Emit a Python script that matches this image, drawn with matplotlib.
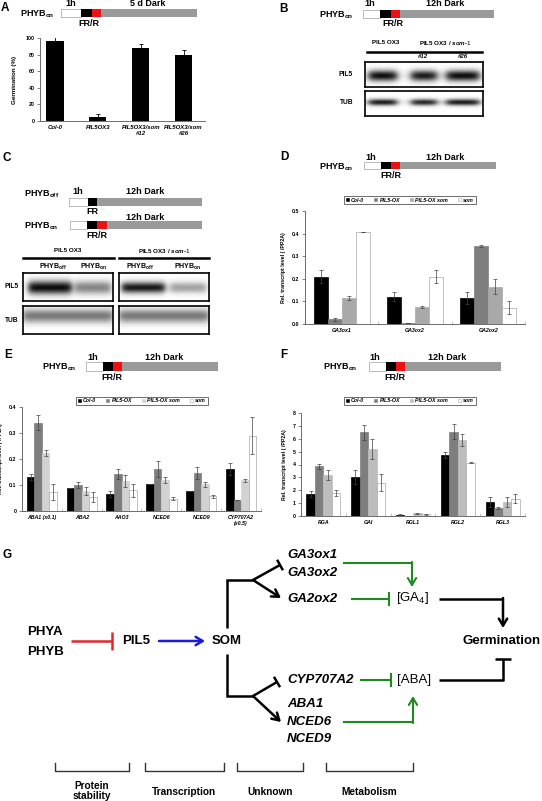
import numpy as np
import matplotlib
matplotlib.use('Agg')
import matplotlib.pyplot as plt
from matplotlib.patches import Rectangle, Patch
from matplotlib.ticker import FormatStrFormatter

plt.rcParams['font.family'] = 'Liberation Sans'
plt.rcParams['mathtext.fontset'] = 'custom'
plt.rcParams['mathtext.rm'] = 'Liberation Sans'
plt.rcParams['mathtext.bf'] = 'Liberation Sans:bold'
plt.rcParams['mathtext.it'] = 'Liberation Sans:italic:bold'

W, H = 542, 801

# ---- data ----
a_labels = ['Col-0', 'PIL5OX3', 'PIL5OX3/som\n#12', 'PIL5OX3/som\n#26']
a_germ = [96, 5, 88, 80]
a_err = [5, 4, 5, 6]

series = ['Col-0', 'PIL5-OX', 'PIL5-OX som', 'som']

d_genes = ['GA3ox1', 'GA3ox2', 'GA2ox2']
d_col0 = [0.21, 0.12, 0.115]
d_pil5ox = [0.02, 0.003, 0.345]
d_pil5som = [0.115, 0.077, 0.165]
d_som = [0.405, 0.21, 0.073]
d_col0_err = [0.03, 0.02, 0.025]
d_pil5ox_err = [0.008, 0.0, 0.005]
d_pil5som_err = [0.01, 0.004, 0.033]
d_som_err = [0.0, 0.03, 0.028]

e_genes = ['ABA1 (x0.1)', 'ABA2', 'AAO3', 'NCED6', 'NCED9', 'CYP707A2\n(x0.5)']
e_col0 = [0.132, 0.088, 0.065, 0.103, 0.077, 0.16]
e_pil5ox = [0.34, 0.10, 0.142, 0.162, 0.147, 0.043]
e_pil5som = [0.222, 0.077, 0.115, 0.118, 0.103, 0.119]
e_som = [0.073, 0.053, 0.08, 0.048, 0.057, 0.29]
e_col0_err = [0.012, 0.0, 0.012, 0.0, 0.0, 0.023]
e_pil5ox_err = [0.03, 0.012, 0.018, 0.03, 0.023, 0.001]
e_pil5som_err = [0.012, 0.017, 0.023, 0.012, 0.009, 0.006]
e_som_err = [0.03, 0.02, 0.025, 0.004, 0.006, 0.07]

f_genes = ['RGA', 'GAI', 'RGL1', 'RGL2', 'RGL3']
f_col0 = [1.7, 3.05, 0.1, 4.75, 1.1]
f_pil5ox = [3.85, 6.5, 0.02, 6.55, 0.6]
f_pil5som = [3.2, 5.2, 0.2, 5.9, 1.1]
f_som = [1.8, 2.6, 0.15, 4.15, 1.35]
f_col0_err = [0.25, 0.55, 0.02, 0.25, 0.4]
f_pil5ox_err = [0.2, 0.6, 0.0, 0.6, 0.08]
f_pil5som_err = [0.4, 0.75, 0.05, 0.45, 0.4]
f_som_err = [0.25, 0.65, 0.04, 0.07, 0.35]

# blot band intensities
b_pil5 = [1.0, 0.95, 1.0]
b_tub = [0.95, 0.9, 0.95]
c_pil5_ox3 = [1.0, 0.5]
c_pil5_som = [0.95, 0.38]
c_tub = [0.55]

fig = plt.figure(figsize=(W / 100, H / 100), dpi=100)
ov = fig.add_axes([0, 0, 1, 1])
ov.set_xlim(0, W)
ov.set_ylim(H, 0)
ov.axis('off')


def px_axes(x0, y0, x1, y1):
    return fig.add_axes([x0 / W, 1 - y1 / H, (x1 - x0) / W, (y1 - y0) / H])


def timeline(xw, xb, xr, xg, xe, y0, y1):
    h = y1 - y0
    ov.add_patch(Rectangle((xw, y0), xb - xw, h, fc='white', ec='#b0b0b0', lw=0.6))
    ov.add_patch(Rectangle((xb, y0), xr - xb, h, fc='black', ec='none'))
    if xg > xr:
        ov.add_patch(Rectangle((xr, y0), xg - xr, h, fc='#ee1111', ec='none'))
    ov.add_patch(Rectangle((xg, y0), xe - xg, h, fc='#9a9a9a', ec='none'))


def t(x, y, s, size=6.5, **kw):
    kw.setdefault('weight', 'bold')
    ov.text(x, y, s, fontsize=size, ha=kw.pop('ha', 'center'), va=kw.pop('va', 'center'), **kw)


on = r'PHYB$_\mathbf{on}$'
off = r'PHYB$_\mathbf{off}$'

# panel letters
for lab, x, y in [('A', 5, 8), ('B', 284, 9), ('C', 7, 158), ('D', 284, 157),
                  ('E', 8, 355), ('F', 284, 355), ('G', 7, 555)]:
    t(x, y, lab, size=8.5)

# ---- A ----
t(20, 14, on, ha='left')
timeline(61, 81, 92, 101, 197, 9, 17)
t(71, 4, '1h')
t(148, 4, '5 d Dark')
t(89, 24, 'FR/R')

axA = px_axes(40, 38, 205, 121)
xa = np.arange(len(a_labels))
axA.bar(xa, a_germ, 0.4, color='black', yerr=[[0] * 4, a_err], ecolor='black',
        error_kw=dict(lw=0.6, capsize=1.5, capthick=0.6))
axA.set_xlim(-0.35, 3.5)
axA.set_ylim(0, 100)
axA.set_yticks(range(0, 101, 20))
axA.set_xticks(xa)
axA.set_xticklabels(a_labels, fontsize=4.3, style='italic', weight='bold')
axA.set_ylabel('Germination (%)', fontsize=4.5, weight='bold', labelpad=6)

# ---- B ----
t(319, 15, on, ha='left')
timeline(363, 380, 391, 400, 494, 10, 18)
t(370, 4, '1h')
t(445, 4, '12h Dark')
t(393, 24, 'FR/R')
t(386, 43, 'PIL5 OX3', size=4.5)
t(445, 43, r'PIL5 OX3 / $\mathit{som}$-$\mathit{1}$', size=4.5)
ov.plot([367, 406], [52, 52], color='black', lw=1.8)
ov.plot([408, 482], [52, 52], color='black', lw=1.8)
t(423, 57, '#12', size=4.3, style='italic')
t(463, 57, '#26', size=4.3, style='italic')
t(353, 75, 'PIL5', size=4.8, ha='right')
t(353, 103, 'TUB', size=4.8, ha='right')


def blot(box, lanes, hws, strength, yc, thick):
    ax = px_axes(*box)
    nx, ny = 300, 80
    xs = np.linspace(0, 1, nx)
    ys = np.linspace(0, 1, ny)
    img = np.zeros((ny, nx))
    for cx, hw, s in zip(lanes, hws, strength):
        px = 1 / (1 + np.exp(-(xs - (cx - hw)) / 0.02)) / (1 + np.exp((xs - (cx + hw)) / 0.02))
        py = np.exp(-((ys - yc) / thick) ** 2)
        img += s * np.outer(py, px)
    ax.imshow(np.clip(img, 0, 1), cmap='gray_r', vmin=0, vmax=1.05, aspect='auto',
              extent=[0, 1, 1, 0], interpolation='bilinear')
    ax.set_xticks([])
    ax.set_yticks([])
    for sp in ax.spines.values():
        sp.set_linewidth(1.2)
    return ax


blot((365, 62, 483, 87), [0.15, 0.5, 0.83], [0.12, 0.11, 0.14], b_pil5, 0.55, 0.22)
blot((365, 91, 483, 116), [0.15, 0.5, 0.83], [0.12, 0.11, 0.14], b_tub, 0.45, 0.13)

# ---- C ----
t(24, 194, off, ha='left')
timeline(69, 88, 97, 97, 202, 198, 206)
t(78, 191, '1h')
t(145, 191, '12h Dark')
t(92, 212, 'FR')
t(24, 226, on, ha='left')
timeline(70, 87, 97, 107, 202, 221, 229)
t(145, 217, '12h Dark')
t(97, 235, 'FR/R')
t(68, 251, 'PIL5 OX3', size=4.5)
t(164, 251, r'PIL5 OX3 / $\mathit{som}$-$\mathit{1}$', size=4.5)
ov.plot([23, 114], [258, 258], color='black', lw=1.8)
ov.plot([119, 209], [258, 258], color='black', lw=1.8)
for x, s in [(53, off), (94, on), (140, off), (188, on)]:
    t(x, 267, s, size=5)
t(12, 287, 'PIL5', size=4.8)
t(12, 320, 'TUB', size=4.8)
blot((23, 273, 113, 301), [0.3, 0.78], [0.24, 0.2], c_pil5_ox3, 0.52, 0.24)
blot((119, 273, 209, 301), [0.27, 0.77], [0.24, 0.2], c_pil5_som, 0.52, 0.2)
blot((23, 306, 113, 334), [0.5], [0.5], c_tub, 0.35, 0.25)
blot((119, 306, 209, 334), [0.5], [0.5], c_tub, 0.35, 0.25)


# ---- D, E, F ----
def grouped(box, genes, vals, errs, colors, ylim, yticks, fmt, legend_xy):
    ax = px_axes(*box)
    x = np.arange(len(genes))
    bw = 0.19
    for i, (v, e, c) in enumerate(zip(vals, errs, colors)):
        ec = '#a8a8a8' if c == 'white' else c
        ax.bar(x + (i - 1.5) * bw, v, bw, color=c, edgecolor=ec, linewidth=0.5,
               yerr=e, ecolor='#404040',
               error_kw=dict(lw=0.5, capsize=1.2, capthick=0.5))
    ax.set_xlim(-0.5, len(genes) - 0.5)
    ax.set_ylim(*ylim)
    ax.set_yticks(yticks)
    ax.yaxis.set_major_formatter(fmt)
    ax.set_xticks(x)
    ax.set_xticklabels(genes, fontsize=3.8, style='italic', weight='bold')
    ax.set_xticks(np.arange(len(genes) + 1) - 0.5, minor=True)
    ax.tick_params(axis='x', which='major', length=0, pad=3)
    ax.tick_params(axis='x', which='minor', length=2.5, direction='in', color='#999999', width=0.4)
    ax.set_ylabel('Rel. transcript level ( /PP2A)', fontsize=3.8, weight='bold', labelpad=4)
    handles = [Patch(fc=c, ec='#a8a8a8' if c == 'white' else c, lw=0.4) for c in colors]
    leg = fig.legend(handles, series, loc='center',
                     bbox_to_anchor=(legend_xy[0] / W, 1 - legend_xy[1] / H),
                     ncol=4, frameon=True, fancybox=False, edgecolor='black',
                     prop=dict(family='Liberation Sans', style='italic', weight='bold', size=3.8),
                     handlelength=0.6, handleheight=0.6, handletextpad=0.4,
                     columnspacing=1.9, borderpad=0.3, borderaxespad=0)
    leg.get_frame().set_linewidth(0.5)
    return ax


t(319, 167, on, ha='left')
timeline(364, 381, 391, 400, 496, 162, 169)
t(371, 157, '1h')
t(445, 157, '12h Dark')
t(391, 176, 'FR/R')
axD = grouped((305, 211, 525, 324), d_genes,
              [d_col0, d_pil5ox, d_pil5som, d_som],
              [d_col0_err, d_pil5ox_err, d_pil5som_err, d_som_err],
              ['black', '#7e7e7e', '#a9a9a9', 'white'],
              (0, 0.5), np.arange(0, 0.51, 0.1), FormatStrFormatter('%.1f'), (410, 200))

t(42, 367, on, ha='left')
timeline(86, 103, 113, 122, 218, 362, 371)
t(93, 357, '1h')
t(164, 357, '12h Dark')
t(112, 377, 'FR/R')
axE = grouped((22, 407, 261, 511), e_genes,
              [e_col0, e_pil5ox, e_pil5som, e_som],
              [e_col0_err, e_pil5ox_err, e_pil5som_err, e_som_err],
              ['black', '#7e7e7e', '#d2d2d2', 'white'],
              (0, 0.4), [0, 0.1, 0.2, 0.3, 0.4], plt.FuncFormatter(lambda v, p: '0' if v == 0 else '%.1f' % v),
              (142, 401))

t(323, 367, on, ha='left')
timeline(369, 386, 396, 405, 501, 362, 371)
t(375, 357, '1h')
t(447, 357, '12h Dark')
t(395, 377, 'FR/R')
axF = grouped((301, 413, 525, 516), f_genes,
              [f_col0, f_pil5ox, f_pil5som, f_som],
              [f_col0_err, f_pil5ox_err, f_pil5som_err, f_som_err],
              ['black', '#7e7e7e', '#bdbdbd', 'white'],
              (0, 8), range(0, 9), FormatStrFormatter('%d'), (410, 401))

for ax in (axA, axD, axE, axF):
    for s in ('top', 'right'):
        ax.spines[s].set_visible(False)
    for s in ('left', 'bottom'):
        ax.spines[s].set_linewidth(0.6)
        ax.spines[s].set_color('#555555')
    ax.tick_params(axis='y', labelsize=3.8, length=2, width=0.5, color='#555555', pad=2)
    for lb in ax.get_yticklabels():
        lb.set_fontweight('bold')
axA.tick_params(axis='x', length=0, pad=3)

# ---- G diagram ----
K = 'black'
GR = '#1f8a1f'


def path(xs, ys, c=K, lw=1.8):
    ov.plot(xs, ys, color=c, lw=lw, solid_capstyle='butt', solid_joinstyle='miter')


def arrow(x0, y0, x1, y1, c=K, lw=1.8):
    ov.annotate('', xy=(x1, y1), xytext=(x0, y0),
                arrowprops=dict(arrowstyle='->,head_length=0.5,head_width=0.3',
                                color=c, lw=lw, shrinkA=0, shrinkB=0))


def tbar(x0, y0, x1, y1, c=K, lw=1.8, half=7):
    ov.plot([x0, x1], [y0, y1], color=c, lw=lw, solid_capstyle='butt')
    d = np.array([x1 - x0, y1 - y0], float)
    d /= np.hypot(*d)
    p = np.array([-d[1], d[0]]) * half
    ov.plot([x1 - p[0], x1 + p[0]], [y1 - p[1], y1 + p[1]], color=c, lw=lw, solid_capstyle='butt')


gs = 9.5
t(45, 632, 'PHYA', size=gs)
t(45, 652, 'PHYB', size=gs)
tbar(71, 641, 112, 641, c='#e3262b', half=9)
t(136, 641, 'PIL5', size=gs)
arrow(159, 641, 205, 641, c='#1a1ae0')
t(227, 641, 'SOM', size=gs)
t(502, 641, 'Germination', size=gs)

path([227, 227, 253], [628, 580, 580])
tbar(253, 580, 280, 565, half=6)
arrow(253, 580, 281, 598)
path([227, 227, 253], [654, 696, 696])
tbar(253, 696, 277, 682, half=6)
arrow(253, 696, 281, 722)

for s, y in [('GA3ox1', 555), ('GA3ox2', 573), ('GA2ox2', 599), ('CYP707A2', 680),
             ('ABA1', 704), ('NCED6', 722), ('NCED9', 739)]:
    t(287, y, s, size=gs, ha='left', style='italic')

t(413, 598, r'[GA$_\mathrm{4}$]', size=gs, weight='normal')
t(414, 680, '[ABA]', size=gs, weight='normal')

path([343, 412], [563, 563], c=GR, lw=1.5)
arrow(412, 562, 412, 587, c=GR, lw=1.5)
tbar(351, 599, 389, 599, c=GR, lw=1.5, half=7)
tbar(360, 680, 391, 680, c=GR, lw=1.5, half=7)
path([343, 413], [722, 722], c=GR, lw=1.5)
arrow(413, 723, 413, 696, c=GR, lw=1.5)

path([439, 503], [599, 599])
arrow(503, 598, 503, 628)
path([439, 503], [680, 680])
tbar(503, 681, 503, 659, half=8)

for x0, x1 in [(55, 129), (145, 224), (237, 303), (326, 413)]:
    ov.plot([x0, x0, x1, x1], [763, 771, 771, 763], color='#333333', lw=1)
t(92, 791, 'Protein\nstability', size=7.3, linespacing=1.1)
t(184, 792, 'Transcription', size=7.3)
t(270, 792, 'Unknown', size=7.3)
t(369, 792, 'Metabolism', size=7.3)

fig.savefig('out.png', dpi=100)
